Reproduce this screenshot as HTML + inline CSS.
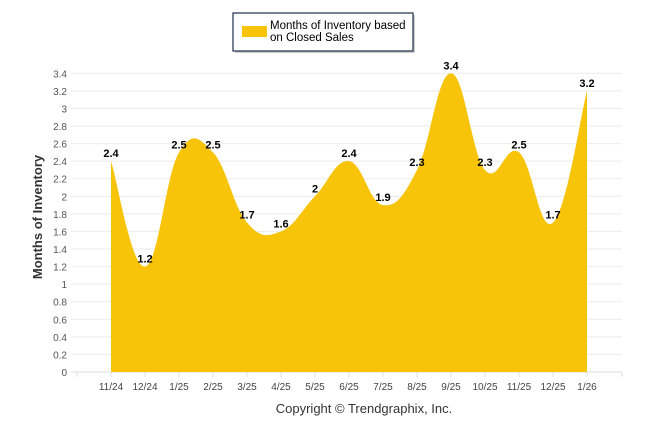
<!DOCTYPE html>
<html><head><meta charset="utf-8"><style>
body{margin:0;background:#fff;font-family:"Liberation Sans",sans-serif}
svg text{font-family:"Liberation Sans",sans-serif}
</style></head><body>
<svg width="646" height="434">
<g id="grid"></g>
<g id="yt"></g>
<path id="area" fill="#f7c409"/>
<g id="xt"></g>
<g id="vl"></g>
<text x="42" y="217" transform="rotate(-90 42 217)" text-anchor="middle" font-size="13" font-weight="bold" fill="#333">Months of Inventory</text>
<text x="364" y="413" text-anchor="middle" font-size="13" fill="#333">Copyright © Trendgraphix, Inc.</text>
<g>
<rect x="235" y="15" width="180" height="38" fill="#999" opacity="0.5"/>
<rect x="233" y="13" width="180" height="38" fill="#fff" stroke="#1f2d4d" stroke-width="1.2"/>
<rect x="242" y="26" width="25" height="11" fill="#f7c409"/>
<text x="270" y="29" font-size="11.5" fill="#000">Months of Inventory based</text>
<text x="270" y="41" font-size="11.5" fill="#000">on Closed Sales</text>
</g>
</svg>
<script>
const categories=["11/24","12/24","1/25","2/25","3/25","4/25","5/25","6/25","7/25","8/25","9/25","10/25","11/25","12/25","1/26"];
const values=[2.4,1.2,2.5,2.5,1.7,1.6,2,2.4,1.9,2.3,3.4,2.3,2.5,1.7,3.2];
const yTicks=[0,0.2,0.4,0.6,0.8,1,1.2,1.4,1.6,1.8,2,2.2,2.4,2.6,2.8,3,3.2,3.4];
const NS="http://www.w3.org/2000/svg";
const X=i=>111+i*34, Y=v=>372-v*(298.7/3.4);
function mk(t,a,p,txt){const e=document.createElementNS(NS,t);for(const k in a)e.setAttribute(k,a[k]);if(txt!=null)e.textContent=txt;p.appendChild(e);return e;}
const grid=document.getElementById('grid'),yt=document.getElementById('yt'),xt=document.getElementById('xt'),vl=document.getElementById('vl');
yTicks.forEach(v=>{
 const l=mk('line',{x1:71,x2:622,y1:Y(v),y2:Y(v),stroke:v===0?'#ddd':'#ebebeb'},grid);
 
 
 const t=mk('text',{x:67,y:Y(v)+4,'text-anchor':'end','font-size':10,fill:'#555'},yt,String(v));
 
 
});
[X(-1)].concat(categories.map((c,i)=>X(i))).concat([622]).forEach(x=>{mk('line',{x1:x,x2:x,y1:372,y2:377,stroke:'#ddd'},grid);});
categories.forEach((c,i)=>{
 const t=mk('text',{x:X(i),y:390,'text-anchor':'middle','font-size':10,fill:'#444'},xt,c);
 
 
});
const pts=values.map((v,i)=>[X(i),Y(v)]);
let d=`M${pts[0][0]},${Y(0)}L${pts[0][0]},${pts[0][1]}`;
for(let i=0;i<pts.length-1;i++){
 const p0=pts[Math.max(0,i-1)],p1=pts[i],p2=pts[i+1],p3=pts[Math.min(pts.length-1,i+2)];
 const k=0.2;
 const c1=[p1[0]+(p2[0]-p0[0])*k,p1[1]+(p2[1]-p0[1])*k];
 const c2=[p2[0]-(p3[0]-p1[0])*k,p2[1]-(p3[1]-p1[1])*k];
 d+=`C${c1[0]},${c1[1]} ${c2[0]},${c2[1]} ${p2[0]},${p2[1]}`;
}
d+=`L${pts[pts.length-1][0]},${Y(0)}Z`;
document.getElementById('area').setAttribute('d',d);
values.forEach((v,i)=>{
 const t=mk('text',{x:X(i),y:Y(v)-4,'text-anchor':'middle','font-size':11,'font-weight':'bold',fill:'#000'},vl,String(v));
 
 
});
</script>
</body></html>
